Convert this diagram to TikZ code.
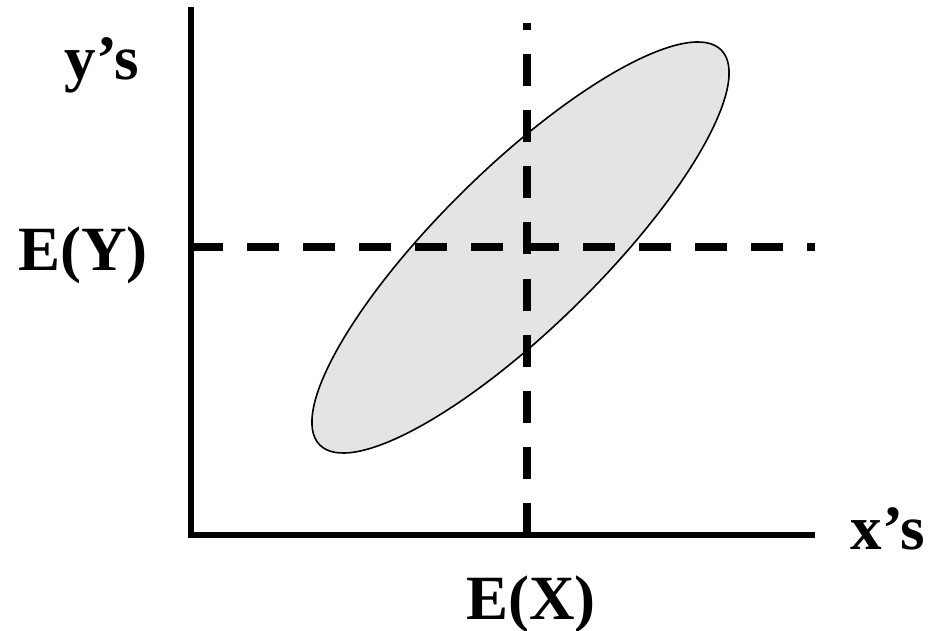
\documentclass[tikz,border=0pt]{standalone}
\usepackage{fontspec}
\setmainfont{Liberation Serif}
\definecolor{cloud}{RGB}{228,228,228}
\tikzset{
  axisline/.style={line width=6pt, line cap=butt},
  meanline/.style={line width=8pt, dash pattern=on 32pt off 24pt},
  lbl/.style={font=\fontsize{63}{70}\selectfont\bfseries, anchor=base, inner sep=0pt},
}
\begin{document}
\begin{tikzpicture}[x=1pt,y=-1pt]
\useasboundingbox (0,0) rectangle (932,631);
% axes
\coordinate (ytop) at (191,7);
\coordinate (orig) at (191,534.5);
\coordinate (xend) at (815,534.5);
\draw[axisline] (ytop) -- (191,537.5);
\draw[axisline] (188,534.5) -- (xend);
% scatter ellipse
\fill[cloud] (520.5,247.5) ellipse [x radius=281.6, y radius=80.1, rotate=44.5];
\draw[line width=1.6pt] (520.5,247.5) ellipse [x radius=281.6, y radius=80.1, rotate=44.5];
% mean lines
\coordinate (mxb) at (527,534.5);
\coordinate (mxt) at (527,23);
\coordinate (myl) at (191,247);
\coordinate (myr) at (815,247);
\draw[meanline] (mxb) -- (mxt);
\draw[meanline] (myl) -- (myr);
% labels
\node[lbl] (ys) at (102,80) {y’s};
\node[lbl] (ey) at (83,270) {E(Y)};
\node[lbl] (xs) at (888,549) {x’s};
\node[lbl] (ex) at (531,619) {E(X)};
\end{tikzpicture}
\end{document}
